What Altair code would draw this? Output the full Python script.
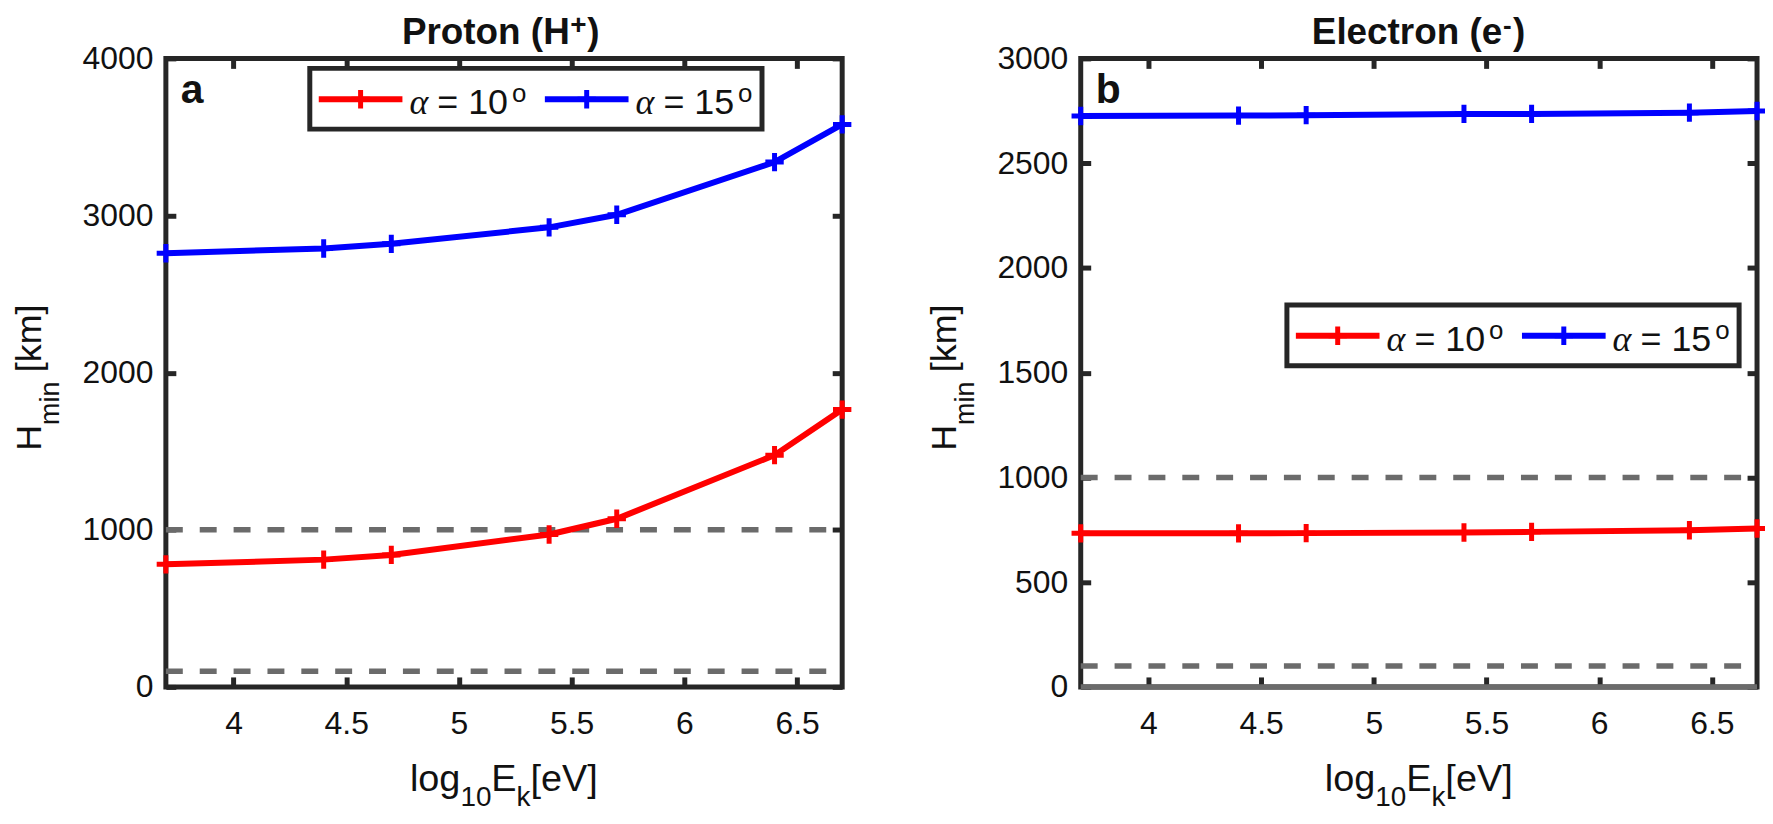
import altair as alt
import pandas as pd

# ---------------- data ----------------
energy_log = [3.7, 4.4, 4.7, 5.4, 5.7, 6.4, 6.7]
proton_a10 = [780, 810, 840, 970, 1070, 1475, 1765]
proton_a15 = [2760, 2790, 2820, 2925, 3005, 3340, 3580]
electron_a10 = [733, 733, 734, 737, 740, 748, 756]
electron_a15 = [2725, 2727, 2729, 2735, 2735, 2741, 2749]
alpha_values = ["10", "15"]
series_colors = ["#ff0000", "#0000ff"]
ref_levels = [100, 1000]
x_ticks = [4, 4.5, 5, 5.5, 6, 6.5]
x_domain = [3.7, 6.7]
proton_y_ticks = [0, 1000, 2000, 3000, 4000]
electron_y_ticks = [0, 500, 1000, 1500, 2000, 2500, 3000]

# ---------------- layout (pixels in the drawing area) ----------------
VW, VH = 1764, 807          # whole drawing area
PW, PH = 679, 631           # each panel's plot box
OY = 49                     # top of both plot boxes
OXL, OXR = 158.5, 1077      # left edges of the two plot boxes
FONT = "Liberation Sans"
AX = "#262626"
TXT = "#111111"
CROSS = "M-1,0L1,0M0,-1L0,1"
LW = 6
one = pd.DataFrame({"k": [0]})


def txt(text, x, y, size, bold=False, angle=0, font=FONT, italic=False):
    kw = dict(text=text, font=font, fontSize=size, align="left", baseline="alphabetic", color=TXT)
    if bold:
        kw["fontWeight"] = "bold"
    if italic:
        kw["fontStyle"] = "italic"
    if angle:
        kw["angle"] = angle
    return alt.Chart(one).mark_text(**kw).encode(x=alt.value(x), y=alt.value(y))


def legend(bx, by):
    layers = [alt.Chart(one).mark_rect(fill="white", stroke=AX, strokeWidth=5).encode(
        x=alt.value(bx), x2=alt.value(bx + 454), y=alt.value(by), y2=alt.value(by + 61))]
    for i, (a, c) in enumerate(zip(alpha_values, series_colors)):
        off = i * 227
        layers.append(alt.Chart(one).mark_rule(color=c, strokeWidth=LW).encode(
            x=alt.value(bx + 9 + off), x2=alt.value(bx + 93 + off), y=alt.value(by + 31)))
        layers.append(alt.Chart(one).mark_point(shape=CROSS, size=340, strokeWidth=5, color=c,
                                                opacity=1).encode(
            x=alt.value(bx + 51 + off), y=alt.value(by + 31)))
        layers.append(txt("α", bx + 100 + off, by + 46, 36, font="Liberation Serif", italic=True))
        layers.append(txt("= " + a, bx + 128 + off, by + 46, 36))
        layers.append(txt("o", bx + 203 + off, by + 34, 26))
    return layers


def panel(ox, y10, y15, ymax, yticks, title_parts, letter, leg_xy, zero_line):
    df = pd.DataFrame({
        "x": energy_log * 2,
        "y": y10 + y15,
        "alpha": [alpha_values[0]] * len(energy_log) + [alpha_values[1]] * len(energy_log),
    })
    xs = alt.Scale(domain=x_domain, range=[ox, ox + PW], nice=False, zero=False)
    ys = alt.Scale(domain=[0, ymax], range=[OY + PH, OY], nice=False, zero=False)
    color = alt.Color("alpha:N", scale=alt.Scale(domain=alpha_values, range=series_colors), legend=None)
    common = dict(tickSize=10, domain=False, grid=False, title=None, minExtent=0, maxExtent=400)

    box = pd.DataFrame({"x0": [x_domain[0]], "x1": [x_domain[1]], "y0": [0], "y1": [ymax]})
    frame = alt.Chart(box).mark_rect(fill=None, stroke=AX, strokeWidth=5).encode(
        x=alt.X("x0:Q", scale=xs, axis=None), x2="x1:Q",
        y=alt.Y("y0:Q", scale=ys, axis=None), y2="y1:Q")
    lv = pd.DataFrame({"lvl": ref_levels, "x0": x_domain[0], "x1": x_domain[1]})
    levels = alt.Chart(lv).mark_rule(color="#6b6b6b", strokeWidth=5.5, strokeDash=[17, 17]).encode(
        x=alt.X("x0:Q", scale=xs, axis=None), x2="x1:Q",
        y=alt.Y("lvl:Q", scale=ys, axis=None))
    layers = [frame, levels]
    if zero_line:
        z = pd.DataFrame({"z": [0], "x0": x_domain[0], "x1": x_domain[1]})
        layers.append(alt.Chart(z).mark_rule(color="#6b6b6b", strokeWidth=5.5).encode(
            x=alt.X("x0:Q", scale=xs, axis=None), x2="x1:Q",
            y=alt.Y("z:Q", scale=ys, axis=None)))
    base = alt.Chart(df)
    line = base.mark_line(strokeWidth=LW).encode(
        x=alt.X("x:Q", scale=xs, axis=alt.Axis(orient="bottom", values=x_ticks, format="~g",
                                               offset=(OY + PH - 10) - VH, labelPadding=22, **common)),
        y=alt.Y("y:Q", scale=ys, axis=alt.Axis(orient="left", values=yticks, format="d",
                                               offset=-(ox + 10), labelPadding=13, **common)),
        color=color, detail="alpha:N")
    pts = base.mark_point(shape=CROSS, size=340, strokeWidth=5, filled=False, opacity=1).encode(
        x=alt.X("x:Q", scale=xs, axis=alt.Axis(orient="top", values=x_ticks, labels=False,
                                               offset=-(OY + 10), **common)),
        y=alt.Y("y:Q", scale=ys, axis=alt.Axis(orient="right", values=yticks, labels=False,
                                               offset=(ox + PW - 10) - VW, **common)),
        color=color)
    layers += [line, pts]
    data_part = alt.layer(*layers).resolve_axis(x="independent", y="independent")

    ann = []
    ann += legend(ox + leg_xy[0], OY + leg_xy[1])
    ann.append(txt(letter, ox + 15, OY + 45, 41, bold=True))
    for (t, x, y, s) in title_parts:
        ann.append(txt(t, ox + x, OY + y, s, bold=True))
    # y axis title  H_min [km]
    ann.append(txt("H", ox - 125, OY + 394, 36, angle=270))
    ann.append(txt("min", ox - 107, OY + 368, 27, angle=270))
    ann.append(txt("[km]", ox - 125, OY + 315, 36, angle=270))
    # x axis title  log10 Ek [eV]
    ann.append(txt("log", ox + 245, OY + 736, 38))
    ann.append(txt("10", ox + 295.7, OY + 751, 28))
    ann.append(txt("E", ox + 326.8, OY + 736, 38))
    ann.append(txt("k", ox + 352.1, OY + 751, 28))
    ann.append(txt("[eV]", ox + 366.1, OY + 736, 38))
    return data_part, ann


left_data, left_ann = panel(OXL, proton_a10, proton_a15, 4000, proton_y_ticks,
                            [("Proton (H", 237, -14, 37), ("+", 406, -24.5, 28), (")", 423, -14, 37)],
                            "a", (144.5, 10), False)
right_data, right_ann = panel(OXR, electron_a10, electron_a15, 3000, electron_y_ticks,
                              [("Electron (e", 232, -14, 37), ("-", 424, -24.5, 26), (")", 434, -14, 37)],
                              "b", (207, 247.5), True)

chart = alt.layer(left_data, right_data, *left_ann, *right_ann).resolve_scale(
    x="independent", y="independent"
).properties(
    width=VW, height=VH,
    autosize=alt.AutoSizeParams(type="none"),
    padding=0,
    background="white",
).configure_view(stroke=None).configure_axis(
    tickColor=AX, tickWidth=5, labelFont=FONT, labelFontSize=32, labelColor=TXT
)

chart.save("out.html", embed_options={"renderer": "svg", "actions": False})
